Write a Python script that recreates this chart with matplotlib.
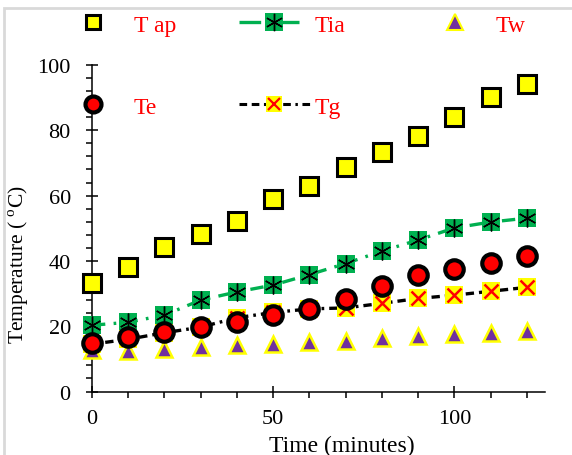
import matplotlib
matplotlib.use("Agg")
import matplotlib.pyplot as plt
from matplotlib.patches import Rectangle
from matplotlib.lines import Line2D
from matplotlib.legend_handler import HandlerTuple
from matplotlib.ticker import MultipleLocator

plt.rcParams['font.family'] = ['Liberation Serif', 'DejaVu Serif']
plt.rcParams['mathtext.fontset'] = 'custom'
plt.rcParams['mathtext.rm'] = 'Liberation Serif'

time = [0, 10, 20, 30, 40, 50, 60, 70, 80, 90, 100, 110, 120]
t_ap = [33.3, 38.0, 44.2, 48.3, 52.1, 58.9, 63.0, 68.7, 73.5, 78.2, 84.1, 90.2, 94.3]
t_ia = [20.3, 21.2, 23.4, 28.0, 30.5, 32.6, 35.8, 39.2, 43.0, 46.4, 50.1, 51.9, 53.1]
t_w = [12.6, 12.5, 13.1, 13.6, 14.1, 14.6, 15.1, 15.6, 16.3, 16.9, 17.6, 18.0, 18.4]
t_g = [14.5, 16.0, 18.0, 19.7, 22.6, 24.2, 25.3, 25.6, 27.0, 28.5, 29.5, 30.7, 31.9]
t_e = [15.0, 16.6, 18.3, 19.7, 21.3, 23.5, 25.2, 28.4, 32.4, 35.6, 37.4, 39.5, 41.5]

W, H = 572, 456
fig = plt.figure(figsize=(W/100, H/100), dpi=100)
ax = fig.add_axes([92/W, 1-392.5/H, 453/W, 326.5/H])

green = '#00b050'
purple = '#7030a0'
yellow = '#ffff00'
ia_dash = (4, 2.5, 0.8, 2.5)
g_dash = (2.5, 1.5, 2.5, 1.5, 0.8, 1.5)

lines = []
lines += ax.plot(time, t_ap, ls='none', marker='s', ms=13.4, mfc=yellow, mec='black', mew=2.2, zorder=3)
lines += ax.plot(time, t_ia, color=green, lw=2.4, dashes=ia_dash, marker='s', ms=12.8,
                 mfc=green, mec=green, mew=0, zorder=3)
lines += ax.plot(time, t_ia, ls='none', marker=(6, 2, 0), ms=12.8, mec='black', mew=1.0, zorder=3.1)
lines += ax.plot(time, t_w, ls='none', marker='^', ms=12, mfc=purple, mec=yellow, mew=1.8, zorder=4)
lines += ax.plot(time, t_g, color='black', lw=2.4, dashes=g_dash, marker='s',
                 ms=12.5, mfc=yellow, mec=yellow, mew=0, zorder=5)
lines += ax.plot(time, t_g, ls='none', marker='x', ms=10, mec='red', mew=1.8, zorder=5.1)
lines += ax.plot(time, t_e, ls='none', marker='o', ms=13.3, mfc='red', mec='black', mew=3, zorder=6)
for l in lines:
    l.set_clip_on(False)

ax.set_xlim(0, 125)
ax.set_ylim(0, 100)
ax.spines['top'].set_visible(False)
ax.spines['right'].set_visible(False)
ax.spines['left'].set_linewidth(1.1)
ax.spines['bottom'].set_linewidth(1.1)
ax.xaxis.set_major_locator(MultipleLocator(50))
ax.xaxis.set_minor_locator(MultipleLocator(10))
ax.yaxis.set_major_locator(MultipleLocator(20))
ax.yaxis.set_minor_locator(MultipleLocator(4))
ax.tick_params(which='major', direction='inout', length=8.6, width=1.1, labelsize=16)
ax.tick_params(axis='x', which='major', pad=8)
ax.tick_params(axis='y', which='major', pad=11)
ax.tick_params(which='minor', direction='out', length=4.3, width=1.1)

ax.set_xlabel('Time (minutes)', fontsize=17)
ax.xaxis.set_label_coords((342-92)/453, (392.5-436)/326.5)
ax.set_ylabel('Temperature ( $^{\\mathregular{o}}$C)', fontsize=15.5)
ax.yaxis.set_label_coords((31-92)/453, (392.5-265)/326.5)

# legend proxies (legend markers are drawn a little smaller than in the plot)
h_ap = Line2D([], [], ls='none', marker='s', ms=10.5, mfc=yellow, mec='black', mew=2.2)
h_e = Line2D([], [], ls='none', marker='o', ms=11.5, mfc='red', mec='black', mew=3)
h_ia = (Line2D([], [], color=green, lw=2.4, dashes=(6.5, 5), marker='s', ms=12.5, mfc=green, mew=0),
        Line2D([], [], ls='none', marker=(6, 2, 0), ms=12.5, mec='black', mew=1.0))
h_g = (Line2D([], [], color='black', lw=2.2, dashes=g_dash, marker='s', ms=11.5, mfc=yellow, mew=0),
       Line2D([], [], ls='none', marker='x', ms=9, mec='red', mew=1.6))
h_w = Line2D([], [], ls='none', marker='^', ms=12, mfc=purple, mec=yellow, mew=1.5)

hm = {tuple: HandlerTuple(ndivide=1)}
common = dict(loc='upper left', frameon=False, fontsize=17, handlelength=3.0, handletextpad=0.22,
              labelspacing=2.57, borderpad=0, borderaxespad=0,
              handler_map=hm, labelcolor='red')
top = 1 - 15/H
fig.legend([h_ap, h_e], ['T ap', 'Te'], bbox_to_anchor=(58/W, top), **common)
fig.legend([h_ia, h_g], ['Tia', 'Tg'], bbox_to_anchor=(239/W, top), **common)
fig.legend([h_w], ['Tw'], bbox_to_anchor=(420/W, top), **common)

fig.patches.append(Rectangle((4/W, -0.05), 1.0, 1.05-9/H, transform=fig.transFigure,
                             fill=False, edgecolor='#d9d9d9', lw=2))

fig.savefig('out.png', dpi=100)
